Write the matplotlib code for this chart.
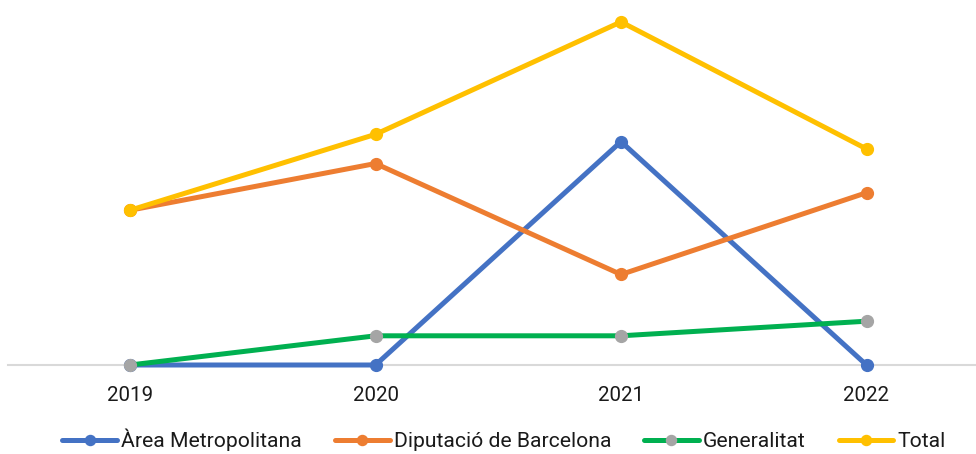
import matplotlib.pyplot as plt

plt.rcParams['font.family'] = ['Roboto', 'DejaVu Sans']

# ----------------------------------------------------------
# Data (no y scale shown)
# ----------------------------------------------------------
years       = ["2019", "2020", "2021", "2022"]
area_metro  = [0.0, 0.0, 15.3, 0.0]
diputacio   = [10.6, 13.8, 6.2, 11.8]
generalitat = [0.0, 2.0, 2.0, 3.0]
total       = [10.6, 15.8, 23.5, 14.8]

series = [
    ("Àrea Metropolitana",     area_metro,  "#4472C4", "#4472C4"),
    ("Diputació de Barcelona", diputacio,   "#ED7D31", "#ED7D31"),
    ("Generalitat",            generalitat, "#00B050", "#A5A5A5"),
    ("Total",                  total,       "#FFC000", "#FFC000"),
]

W, H = 976, 454
fig = plt.figure(figsize=(W / 100, H / 100), dpi=100)
# axes: left edge at 8px, baseline at y=365px, top at y=10px
ax = fig.add_axes([8 / W, 1 - 365 / H, (W - 8) / W, 355 / H])

x = list(range(len(years)))
handles = []
for z, (name, vals, lc, mc) in enumerate(series):
    h, = ax.plot(x, vals, color=lc, lw=3.6, marker="o", markersize=8.5,
                 markerfacecolor=mc, markeredgecolor=mc,
                 solid_capstyle="round", clip_on=False, zorder=3 + z,
                 label=name)
    handles.append(h)

ax.set_xlim(-(130 - 8) / 245.5, (976 - 130) / 245.5)
ax.set_ylim(0, 355 / 14.6)
ax.set_xticks(x)
ax.set_xticklabels(years, fontsize=14.8, color="#1a1a1a")
ax.set_yticks([])
for s in ["top", "right", "left"]:
    ax.spines[s].set_visible(False)
ax.spines["bottom"].set_color("#D9D9D9")
ax.spines["bottom"].set_linewidth(1.5)
ax.spines["bottom"].set_zorder(1)
ax.tick_params(axis="x", length=0, pad=15)

leg = fig.legend(handles=handles, loc="center",
                 bbox_to_anchor=(0.5 + 16 / W, 1 - 440 / H),
                 ncol=4, frameon=False, fontsize=15.2, handlelength=2.6,
                 handletextpad=0.2, columnspacing=1.55, borderaxespad=0,
                 markerscale=0.85)
for t in leg.get_texts():
    t.set_color("#1a1a1a")

fig.savefig("out.png", dpi=100)
